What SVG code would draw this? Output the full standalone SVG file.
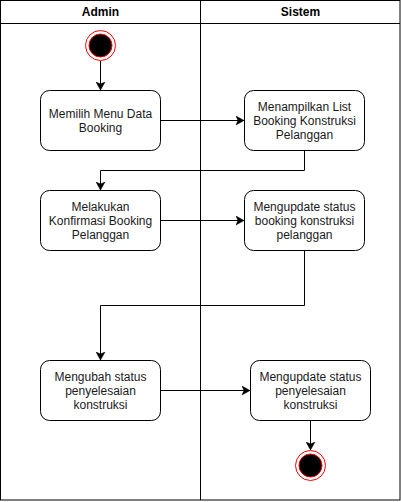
<svg xmlns="http://www.w3.org/2000/svg" width="401" height="502" viewBox="0 0 401 502">
<style>
.box{fill:#fff;stroke:#000;stroke-width:1}
.lbl{font-family:"Liberation Sans",Arial,sans-serif;font-size:12px;fill:#1a1a1a;text-anchor:middle}
.hdr{font-family:"Liberation Sans",Arial,sans-serif;font-size:12px;font-weight:bold;fill:#000;text-anchor:middle}
.edge{fill:none;stroke:#000;stroke-width:1}
.outer{fill:#fff;stroke:#ff0000;stroke-width:1}
.inner{fill:#000;stroke:#ff0000;stroke-width:1}
.lane{fill:none;stroke:#000;stroke-width:1}
</style>
<defs>
<marker id="arr" markerUnits="userSpaceOnUse" markerWidth="10" markerHeight="10" refX="8" refY="4.5" orient="auto" viewBox="0 0 10 9">
<path d="M0,0 L8,4.5 L0,9 L2,4.5 z" fill="#000" stroke="#000" stroke-width="0.5"/>
</marker>
</defs>
<g id="pool">
<rect class="lane" x="0.5" y="0.5" width="399.5" height="499.5"/>
<line class="lane" x1="0.5" y1="23.5" x2="400" y2="23.5"/>
<line class="lane" x1="200.5" y1="0.5" x2="200.5" y2="500"/>
<text class="hdr" x="100.5" y="16">Admin</text>
<text class="hdr" x="300.5" y="16">Sistem</text>
</g>
<g id="connectors">
<line class="edge" x1="100.5" y1="61" x2="100.5" y2="90" marker-end="url(#arr)"/>
<line class="edge" x1="160.5" y1="120.5" x2="244" y2="120.5" marker-end="url(#arr)"/>
<polyline class="edge" points="304.5,150 304.5,170.5 100.5,170.5 100.5,190" marker-end="url(#arr)"/>
<line class="edge" x1="160.5" y1="220.5" x2="244" y2="220.5" marker-end="url(#arr)"/>
<polyline class="edge" points="304.5,250 304.5,305.5 100.5,305.5 100.5,360" marker-end="url(#arr)"/>
<line class="edge" x1="160.5" y1="390.5" x2="250" y2="390.5" marker-end="url(#arr)"/>
<line class="edge" x1="310.5" y1="420" x2="310.5" y2="450" marker-end="url(#arr)"/>
</g>
<g id="start">
<circle class="outer" cx="100.5" cy="45.5" r="15"/>
<circle class="inner" cx="100.5" cy="45.5" r="11.5"/>
</g>
<g id="n1">
<rect class="box" x="40.5" y="90.5" width="120" height="60" rx="9" ry="9"/>
<text class="lbl" x="100.5" y="117.5">Memilih Menu Data</text>
<text class="lbl" x="100.5" y="131.5">Booking</text>
</g>
<g id="n2">
<rect class="box" x="244.5" y="90.5" width="120" height="60" rx="9" ry="9"/>
<text class="lbl" x="304.5" y="110.5">Menampilkan List</text>
<text class="lbl" x="304.5" y="124.5">Booking Konstruksi</text>
<text class="lbl" x="304.5" y="138.5">Pelanggan</text>
</g>
<g id="n3">
<rect class="box" x="40.5" y="190.5" width="120" height="60" rx="9" ry="9"/>
<text class="lbl" x="100.5" y="210.5">Melakukan</text>
<text class="lbl" x="100.5" y="224.5">Konfirmasi Booking</text>
<text class="lbl" x="100.5" y="238.5">Pelanggan</text>
</g>
<g id="n4">
<rect class="box" x="244.5" y="190.5" width="120" height="60" rx="9" ry="9"/>
<text class="lbl" x="304.5" y="210.5">Mengupdate status</text>
<text class="lbl" x="304.5" y="224.5">booking konstruksi</text>
<text class="lbl" x="304.5" y="238.5">pelanggan</text>
</g>
<g id="n5">
<rect class="box" x="40.5" y="360.5" width="120" height="60" rx="9" ry="9"/>
<text class="lbl" x="100.5" y="380.5">Mengubah status</text>
<text class="lbl" x="100.5" y="394.5">penyelesaian</text>
<text class="lbl" x="100.5" y="408.5">konstruksi</text>
</g>
<g id="n6">
<rect class="box" x="250.5" y="360.5" width="120" height="60" rx="9" ry="9"/>
<text class="lbl" x="310.5" y="380.5">Mengupdate status</text>
<text class="lbl" x="310.5" y="394.5">penyelesaian</text>
<text class="lbl" x="310.5" y="408.5">konstruksi</text>
</g>
<g id="end">
<circle class="outer" cx="310.5" cy="465.5" r="15"/>
<circle class="inner" cx="310.5" cy="465.5" r="11.5"/>
</g>
</svg>
